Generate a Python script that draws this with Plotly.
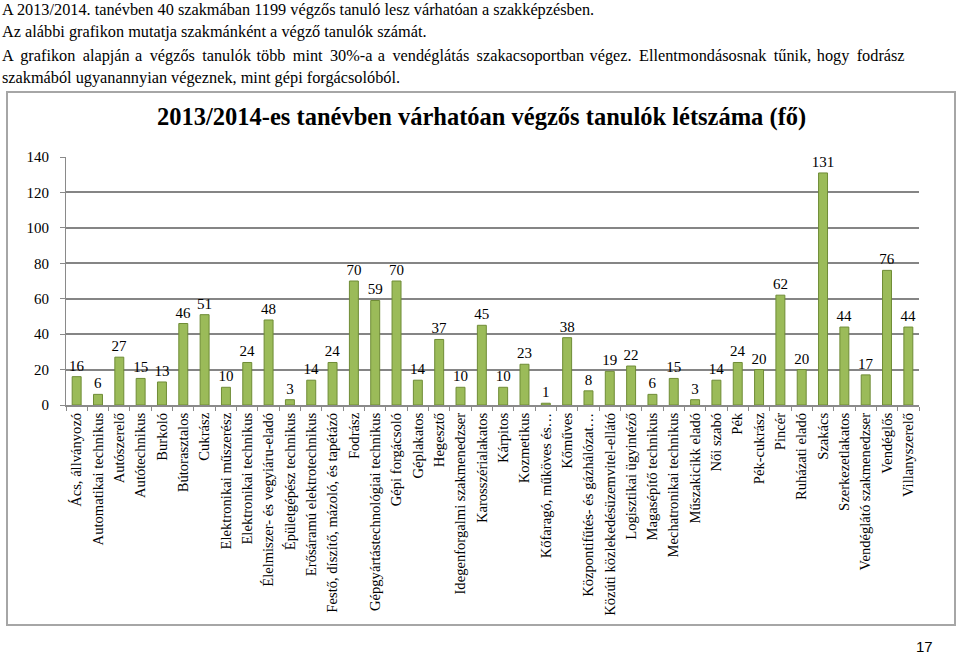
import plotly.graph_objects as go

# Szakmák és várhatóan végzős tanulók száma (2013/2014)
szakmak = [
    "Ács, állványozó", "Automatikai technikus", "Autószerelő", "Autótechnikus",
    "Burkoló", "Bútorasztalos", "Cukrász", "Elektronikai műszerész",
    "Elektronikai technikus", "Élelmiszer- és vegyiáru-eladó", "Épületgépész technikus",
    "Erősáramú elektrotechnikus", "Festő, díszítő, mázoló, és tapétázó", "Fodrász",
    "Gépgyártástechnológiai technikus", "Gépi forgácsoló", "Géplakatos", "Hegesztő",
    "Idegenforgalmi szakmenedzser", "Karosszérialakatos", "Kárpitos", "Kozmetikus",
    "Kőfaragó, műköves és…", "Kőműves", "Központifűtés- és gázhálózat…",
    "Közúti közlekedésüzemvitel-ellátó", "Logisztikai ügyintéző", "Magasépítő technikus",
    "Mechatronikai technikus", "Műszakicikk eladó", "Női szabó", "Pék", "Pék-cukrász",
    "Pincér", "Ruházati eladó", "Szakács", "Szerkezetlakatos", "Vendéglátó szakmenedzser",
    "Vendéglős", "Villanyszerelő",
]
letszam = [
    16, 6, 27, 15, 13, 46, 51, 10, 24, 48,
    3, 14, 24, 70, 59, 70, 14, 37, 10, 45,
    10, 23, 1, 38, 8, 19, 22, 6, 15, 3,
    14, 24, 20, 62, 20, 131, 44, 17, 76, 44,
]
y_ticks = [0, 20, 40, 60, 80, 100, 120, 140]

serif = '"Liberation Serif", "Times New Roman", "DejaVu Serif", serif'
H = 654.0

def py(px):
    # pixel from top -> paper fraction
    return (H - px) / H

fig = go.Figure()
fig.add_trace(go.Bar(
    x=szakmak, y=letszam,
    marker=dict(color="#9BBB59", line=dict(color="#6F8C36", width=1)),
    width=0.42,
    text=[str(v) for v in letszam], textposition="outside",
    textfont=dict(family=serif, size=15, color="black"),
    constraintext="none", textangle=0,
    cliponaxis=False,
))

fig.update_layout(
    width=960, height=654,
    margin=dict(l=0, r=0, t=0, b=0, autoexpand=False),
    paper_bgcolor="white", plot_bgcolor="white",
    showlegend=False,
    font=dict(family=serif, size=14, color="black"),
    xaxis=dict(
        domain=[66 / 960, 919 / 960], automargin=False,
        tickangle=-90, tickfont=dict(family=serif, size=14.6, color="black"),
        showline=True, linecolor="#8a8a8a", linewidth=2,
        ticks="outside", tickson="boundaries", ticklen=4, tickcolor="#8a8a8a",
        showgrid=False,
    ),
    yaxis=dict(
        domain=[py(405), py(157)], range=[0, 140], automargin=False,
        tickvals=y_ticks, tickfont=dict(family=serif, size=15, color="black"),
        ticklabelstandoff=8,
        showgrid=True, gridcolor="#858585", gridwidth=2,
        showline=True, linecolor="#8a8a8a", linewidth=1,
        ticks="outside", ticklen=5, tickcolor="#8a8a8a",
        zeroline=False,
    ),
    shapes=[dict(
        type="rect", xref="paper", yref="paper",
        x0=7 / 960, x1=955 / 960, y0=py(625), y1=py(92),
        line=dict(color="#a6a6a6", width=2),
    )],
)

def sorkizaras(szoveg):
    # sorkizárt sor utánzása: a szóközök után vékony / hajszál szóköz
    szavak = szoveg.split(" ")
    ki = szavak[0]
    for i, szo in enumerate(szavak[1:]):
        ki += (" \u2009" if i % 3 != 2 else " \u200a") + szo
    return ki

# Szöveg a grafikon felett
sorok = [
    (10, "A 2013/2014. tanévben 40 szakmában 1199 végzős tanuló lesz várhatóan a szakképzésben.", False),
    (32, "Az alábbi grafikon mutatja szakmánként a végző tanulók számát.", False),
    (55, "A grafikon alapján a végzős tanulók több mint 30%-a a vendéglátás szakacsoportban végez. Ellentmondásosnak tűnik, hogy fodrász", True),
    (77, "szakmából ugyanannyian végeznek, mint gépi forgácsolóból.", False),
]
for ypx, szoveg, sorkizart in sorok:
    if sorkizart:
        szoveg = sorkizaras(szoveg)
    fig.add_annotation(
        text=szoveg, xref="paper", yref="paper", x=0, y=py(ypx),
        xanchor="left", yanchor="middle", showarrow=False,
        font=dict(family=serif, size=16.3, color="black"),
    )

fig.add_annotation(
    text="<b>2013/2014-es tanévben várhatóan végzős tanulók létszáma (fő)</b>",
    xref="paper", yref="paper", x=481 / 960, y=py(117),
    xanchor="center", yanchor="middle", showarrow=False,
    font=dict(family=serif, size=24.5, color="black"),
)

fig.add_annotation(
    text="17", xref="paper", yref="paper", x=924 / 960, y=py(646),
    xanchor="center", yanchor="middle", showarrow=False,
    font=dict(family='"Liberation Sans", Arial, sans-serif', size=15, color="black"),
)

# a böngésző alapértelmezett 8px-es margója nélkül, eszköztár nélkül
fig.write_html("out.html", config={"displayModeBar": False},
               post_script="document.body.style.margin='0px';")
